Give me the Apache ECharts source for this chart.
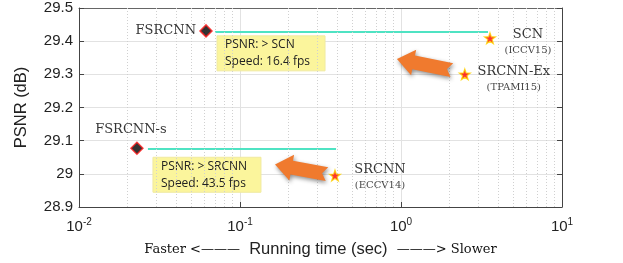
<!DOCTYPE html>
<html><head><meta charset="utf-8">
<script src="https://cdn.jsdelivr.net/npm/echarts@6/dist/echarts.min.js"></script>
<style>html,body{margin:0;padding:0;background:#fff}#c{width:623px;height:263px}</style>
</head><body><div id="c"></div>
<script>
// ---- data ----
const fsrcnnNames = ['FSRCNN', 'FSRCNN-s'];
const fsrcnnTime = [0.0615, 0.0229];
const fsrcnnPsnr = [29.431, 29.077];
const otherNames = ['SCN', 'SRCNN-Ex', 'SRCNN'];
const otherVenues = ['(ICCV15)', '(TPAMI15)', '(ECCV14)'];
const otherTime = [3.57, 2.49, 0.389];
const otherPsnr = [29.409, 29.30, 28.995];
const guideStart = [0.07, 0.0268];
const guideEnd = [3.47, 0.395];
const guidePsnr = [29.428, 29.075];
const noteLine1 = ['PSNR: > SCN', 'PSNR: > SRCNN'];
const noteLine2 = ['Speed: 16.4 fps', 'Speed: 43.5 fps'];
const minorTicks = [0.02,0.03,0.04,0.05,0.06,0.07,0.08,0.09,0.2,0.3,0.4,0.5,0.6,0.7,0.8,0.9,2,3,4,5,6,7,8,9];
const xMin = 0.01, xMax = 10, yMin = 28.9, yMax = 29.5, yStep = 0.1;

// ---- layout (annotation anchors in data space) ----
const noteAnchor = [[0.072, 29.416], [0.0288, 29.05]];
const arrowHead = [[0.944, 29.346], [0.165, 29.028]];
const arrowTail = [[2.07, 29.313], [0.347, 28.999]];

const serif = '"DejaVu Serif", "Liberation Serif", serif';
const sans = '"Liberation Sans", Arial, sans-serif';
const star = 'path://M0,-10 L2.35,-3.24 L9.51,-3.09 L3.8,1.24 L5.88,8.09 L0,4 L-5.88,8.09 L-3.8,1.24 L-9.51,-3.09 L-2.35,-3.24 Z';

const fsLabel = [
  {position: 'inside', align: 'right', verticalAlign: 'middle', offset: [-10, 0]},
  {position: 'inside', align: 'center', verticalAlign: 'middle', offset: [-6, -19]}
];
const otherLabel = [[38, 4], [49, 5], [45, 2]];

const chart = echarts.init(document.getElementById('c'), null, {renderer: 'canvas'});

const series = [];
series.push({
  type: 'line', data: [], silent: true,
  markLine: {
    silent: true, symbol: 'none', label: {show: false},
    lineStyle: {type: [1, 2], color: '#d0d0d0', width: 1},
    data: minorTicks.map(v => ({xAxis: v}))
  }
});
guideStart.forEach((s, i) => {
  series.push({
    type: 'line', symbol: 'none', silent: true,
    lineStyle: {color: '#4fe3c3', width: 2},
    data: [[s, guidePsnr[i]], [guideEnd[i], guidePsnr[i]]], z: 3
  });
});
series.push({
  type: 'scatter', symbol: 'diamond', symbolSize: 12, z: 5,
  itemStyle: {color: '#000', borderColor: '#ff1a1a', borderWidth: 1.5},
  data: fsrcnnNames.map((n, i) => ({
    value: [fsrcnnTime[i], fsrcnnPsnr[i]], name: n,
    label: Object.assign({show: true, formatter: n, fontFamily: serif, fontSize: 13, color: '#000'}, fsLabel[i])
  }))
});
series.push({
  type: 'scatter', symbol: star, symbolSize: 11, z: 5,
  itemStyle: {color: '#ff0000', borderColor: '#ffd700', borderWidth: 1.2},
  data: otherNames.map((n, i) => ({
    value: [otherTime[i], otherPsnr[i]], name: n,
    label: {
      show: true, position: 'inside', align: 'center', verticalAlign: 'middle',
      offset: otherLabel[i],
      formatter: '{n|' + n + '}\n{v|' + otherVenues[i] + '}',
      rich: {
        n: {fontFamily: serif, fontSize: 13, color: '#000', lineHeight: 16, align: 'center'},
        v: {fontFamily: serif, fontSize: 10, color: '#111', lineHeight: 16, align: 'center'}
      }
    }
  }))
});

chart.setOption({
  animation: false,
  grid: {left: 79, right: 61, top: 8, bottom: 51, containLabel: false},
  xAxis: [{
    type: 'log', logBase: 10, min: xMin, max: xMax,
    axisLine: {show: true, lineStyle: {color: '#444'}},
    axisTick: {show: true, inside: true, length: 5, lineStyle: {color: '#444'}},
    splitLine: {show: true, lineStyle: {color: '#e2e2e2'}},
    axisLabel: {
      margin: 10, color: '#222',
      formatter: v => '{b|10}{s|' + Math.round(Math.log10(v)) + '}',
      rich: {b: {fontFamily: sans, fontSize: 15, color: '#222'}, s: {fontFamily: sans, fontSize: 10, color: '#222', padding: [0, 0, 9, 0]}}
    },
    name: '{f|Faster <\u2014\u2014\u2014}  Running time (sec)  {f|\u2014\u2014\u2014> Slower}',
    nameLocation: 'middle', nameGap: 34,
    nameTextStyle: {fontFamily: sans, fontSize: 16.5, color: '#222', rich: {f: {fontFamily: serif, fontSize: 13, color: '#111'}}}
  }, {
    type: 'log', logBase: 10, min: xMin, max: xMax, position: 'top',
    axisLine: {show: true, lineStyle: {color: '#666'}},
    axisTick: {show: false}, axisLabel: {show: false}, splitLine: {show: false}
  }],
  yAxis: [{
    type: 'value', min: yMin, max: yMax, interval: yStep,
    axisLine: {show: true, lineStyle: {color: '#444'}},
    axisTick: {show: true, inside: true, length: 5, lineStyle: {color: '#444'}},
    splitLine: {show: true, lineStyle: {color: '#e2e2e2'}},
    axisLabel: {margin: 6, fontFamily: sans, fontSize: 15, color: '#222'},
    name: 'PSNR (dB)', nameLocation: 'middle', nameGap: 49,
    nameTextStyle: {fontFamily: sans, fontSize: 16.5, color: '#222'}
  }, {
    type: 'value', min: yMin, max: yMax, interval: yStep, position: 'right',
    axisLine: {show: true, lineStyle: {color: '#444'}},
    axisTick: {show: true, inside: true, length: 5, lineStyle: {color: '#444'}},
    axisLabel: {show: false}, splitLine: {show: false}
  }],
  series: series
});

const toPx = p => chart.convertToPixel({xAxisIndex: 0, yAxisIndex: 0}, p);
const graphics = [];
noteAnchor.forEach((a, i) => {
  const p = toPx(a);
  graphics.push({
    type: 'group', x: p[0], y: p[1], z: 10,
    children: [
      {type: 'rect', shape: {x: 0, y: 0, width: 108, height: 35}, style: {fill: '#fbf59c', stroke: '#f0eaa0', lineWidth: 1}},
      {type: 'text', x: 8, y: 9, style: {text: noteLine1[i], font: '12px "Open Sans", sans-serif', fill: '#222', textVerticalAlign: 'middle'}},
      {type: 'text', x: 8, y: 26, style: {text: noteLine2[i], font: '12px "Open Sans", sans-serif', fill: '#222', textVerticalAlign: 'middle'}}
    ]
  });
});
arrowHead.forEach((h, i) => {
  const H = toPx(h), T = toPx(arrowTail[i]);
  const dx = H[0] - T[0], dy = H[1] - T[1], L = Math.hypot(dx, dy);
  const d = [dx / L, dy / L], n = [-d[1], d[0]];
  const w = 7, hw = 13, hl = 17, notch = 5;
  const pt = (base, a, b) => [base[0] + d[0] * a + n[0] * b, base[1] + d[1] * a + n[1] * b];
  const pts = [
    pt(T, 0, w), pt(H, -hl, w), pt(H, -hl, hw), H.slice(), pt(H, -hl, -hw), pt(H, -hl, -w), pt(T, 0, -w), pt(T, notch, 0)
  ];
  graphics.push({
    type: 'polygon', z: 9, shape: {points: pts},
    style: {fill: '#f07a2e', shadowBlur: 4, shadowColor: 'rgba(0,0,0,0.45)', shadowOffsetX: 1, shadowOffsetY: 2}
  });
});
chart.setOption({graphic: graphics});
</script>
</body></html>
